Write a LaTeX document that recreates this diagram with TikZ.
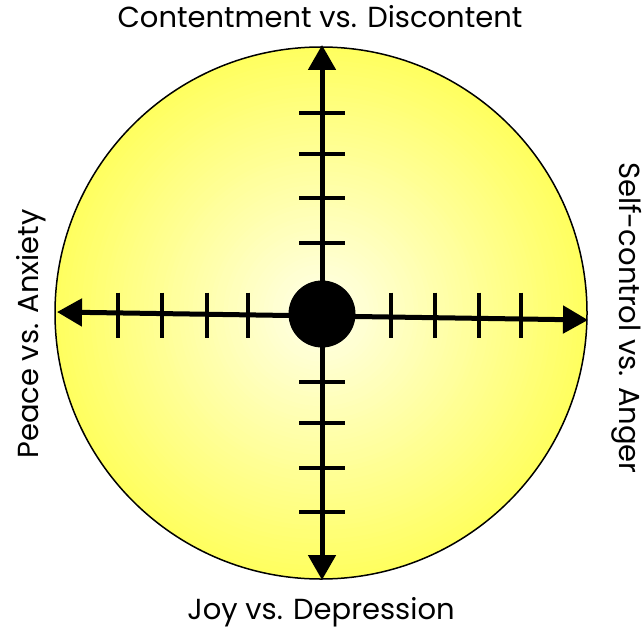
\documentclass[tikz,border=0pt]{standalone}
\usepackage{fontspec}
\setmainfont{Poppins}
\usetikzlibrary{arrows.meta}
\definecolor{discyellow}{RGB}{255,255,95}
\definecolor{disclight}{RGB}{255,255,232}
\begin{document}
\begin{tikzpicture}[x=1pt, y=-1pt,
  axis/.style={line width=5pt, {Triangle[length=25pt,width=27pt]}-{Triangle[length=25pt,width=27pt]}},
  tick/.style={line width=4.5pt},
  axislabel/.style={font=\fontsize{29}{35}\selectfont, anchor=base, inner sep=0pt}]
  \useasboundingbox (0,0) rectangle (644,631);
  % Disque (degrade par anneaux)
  \foreach \i in {0,...,59} {
    \pgfmathsetmacro\r{266*(1-\i/60)}
    \pgfmathtruncatemacro\p{100-\i*100/59}
    \fill[discyellow!\p!disclight] (321,313) circle (\r pt);
  }
  \draw[line width=1.5pt] (321,313) circle (266pt);
  % Axes
  \coordinate (N) at (322,45);
  \coordinate (S) at (322,580);
  \coordinate (W) at (57,312);
  \coordinate (E) at (588,320);
  \draw[axis] (S) -- (N);
  \draw[axis] (E) -- (W);
  % Graduations verticales
  \foreach \y in {113,154,198,243,382,423,468,512} {
    \draw[tick] (299,\y) -- (345,\y);
  }
  % Graduations horizontales
  \foreach \x in {118,162,207,248,391,435,479,521} {
    \draw[tick] (\x,292.5) -- (\x,337.5);
  }
  % Centre
  \node[circle, fill=black, minimum size=67pt, inner sep=0pt] (hub) at (322,314) {};
  % Etiquettes
  \node[axislabel] (content) at (320,28) {Contentment vs. Discontent};
  \node[axislabel] (joy) at (321,619) {Joy vs. Depression};
  \node[axislabel, rotate=90] (peace) at (38,334) {Peace vs. Anxiety};
  \node[axislabel, rotate=-90] (self) at (619,318) {Self-control vs. Anger};
\end{tikzpicture}
\end{document}
